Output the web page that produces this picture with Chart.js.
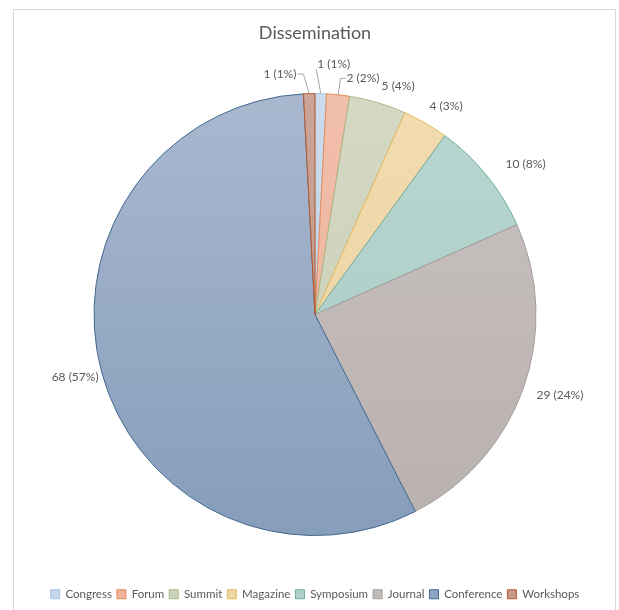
<!DOCTYPE html>
<html>
<head>
<meta charset="utf-8">
<script src="https://cdn.jsdelivr.net/npm/chart.js@4.4.0/dist/chart.umd.min.js"></script>
<style>
  html, body { margin: 0; padding: 0; background: #fff; }
  #wrap { width: 619px; height: 610px; }
</style>
</head>
<body>
<div id="wrap"><canvas id="pieChart" width="619" height="610"></canvas></div>
<script>
// Data
const categories = ['Congress', 'Forum', 'Summit', 'Magazine', 'Symposium', 'Journal', 'Conference', 'Workshops'];
const counts = [1, 2, 5, 4, 10, 29, 68, 1];

// Excel-ish gradient fills (top / bottom) and slice outlines
const fillTop = ['#cadcee', '#f2bfaa', '#d5d9c4', '#f2dcb0', '#b9d7d1', '#c8c2c1', '#a9b8cf', '#cba498'];
const fillBottom = ['#bcd0e4', '#e8ae98', '#c8cdb4', '#e8d09e', '#a9c9c3', '#b9b1b0', '#869dbb', '#bf9484'];
const borderColors = ['#a6c5e3', '#e7895a', '#a9ba8c', '#e6bb5e', '#6fae9f', '#a59e9d', '#42698f', '#b5582b'];
const legendColors = ['#c5d8ea', '#efb39b', '#cdd2bb', '#efd6a6', '#b1d0cb', '#c0bab9', '#8fa6c3', '#c59a8c'];

// label placement: angle shift (deg) and extra distance past the rim, plus leader side
const labelShift = [2.8, 5.5, 3.5, 2.2, 3.4, -1.2, 0.3, -6.8];
const labelExtra = [30, 20, 22, 25, 38, 37, 27, 22];
const leaderSide = ['below', 'left', null, null, null, null, null, 'right'];

const total = counts.reduce((a, b) => a + b, 0);
const textColor = '#595959';
const fontFamily = 'Lato, "Open Sans", sans-serif';

let gradientCache = {};
function sliceFill(context) {
  const i = context.dataIndex;
  const area = context.chart.chartArea;
  if (!area) {
    return legendColors[i];
  }
  if (!gradientCache[i]) {
    const g = context.chart.ctx.createLinearGradient(0, 92, 0, 534);
    g.addColorStop(0, fillTop[i]);
    g.addColorStop(1, fillBottom[i]);
    gradientCache[i] = g;
  }
  return gradientCache[i];
}

// Outer chart frame
const framePlugin = {
  id: 'frame',
  beforeDraw(chart) {
    const ctx = chart.ctx;
    ctx.save();
    ctx.strokeStyle = '#d9d9d9';
    ctx.lineWidth = 1;
    ctx.strokeRect(13.5, 9.5, 602, 604);
    ctx.restore();
  }
};

// Data labels "n (p%)" outside the slices
const labelPlugin = {
  id: 'sliceLabels',
  afterDatasetsDraw(chart) {
    const ctx = chart.ctx;
    const meta = chart.getDatasetMeta(0);
    ctx.save();
    ctx.font = '12px ' + fontFamily;
    ctx.fillStyle = textColor;
    ctx.textAlign = 'center';
    ctx.textBaseline = 'middle';
    meta.data.forEach(function(arc, i) {
      const cx = arc.x;
      const cy = arc.y;
      const r = arc.outerRadius;
      const mid = (arc.startAngle + arc.endAngle) / 2;
      const ang = mid + labelShift[i] * Math.PI / 180;
      const dist = r + labelExtra[i];
      const lx = cx + Math.cos(ang) * dist;
      const ly = cy + Math.sin(ang) * dist;
      const text = counts[i] + ' (' + Math.round(counts[i] / total * 100) + '%)';
      const w = ctx.measureText(text).width;
      ctx.fillText(text, lx, ly);

      if (leaderSide[i]) {
        const ax = cx + Math.cos(mid) * r;
        const ay = cy + Math.sin(mid) * r;
        ctx.beginPath();
        ctx.strokeStyle = '#a6a6a6';
        ctx.lineWidth = 1;
        ctx.moveTo(ax, ay);
        if (leaderSide[i] === 'left') {
          ctx.lineTo(lx - w / 2 - 6, ly);
          ctx.lineTo(lx - w / 2 - 1, ly);
        } else if (leaderSide[i] === 'right') {
          ctx.lineTo(lx + w / 2 + 7, ly);
          ctx.lineTo(lx + w / 2 + 1, ly);
        } else {
          ctx.lineTo(lx - w / 2 - 1, ly + 5);
        }
        ctx.stroke();
      }
    });
    ctx.restore();
  }
};

const containerPieChart = document.querySelector('#pieChart').getContext('2d');
const pieChart = new Chart(containerPieChart, {
  type: 'pie',
  data: {
    labels: categories,
    datasets: [{
      data: counts,
      backgroundColor: sliceFill,
      borderColor: borderColors,
      borderWidth: 1,
      radius: 221
    }]
  },
  options: {
    responsive: false,
    animation: false,
    layout: {
      padding: { top: 0, bottom: 0, left: 11, right: 0 }
    },
    plugins: {
      title: {
        display: true,
        text: 'Dissemination',
        color: textColor,
        font: { family: fontFamily, size: 18, weight: 'normal' },
        padding: { top: 22, bottom: 2 }
      },
      legend: {
        display: true,
        position: 'bottom',
        labels: {
          color: textColor,
          font: { family: fontFamily, size: 11.5 },
          boxWidth: 9,
          boxHeight: 9,
          padding: 5,
          generateLabels: function(chart) {
            return categories.map(function(name, i) {
              return {
                text: name,
                fillStyle: legendColors[i],
                strokeStyle: borderColors[i],
                lineWidth: 1,
                fontColor: textColor,
                index: i
              };
            });
          }
        }
      },
      tooltip: { enabled: false }
    }
  },
  plugins: [framePlugin, labelPlugin]
});
</script>
</body>
</html>
